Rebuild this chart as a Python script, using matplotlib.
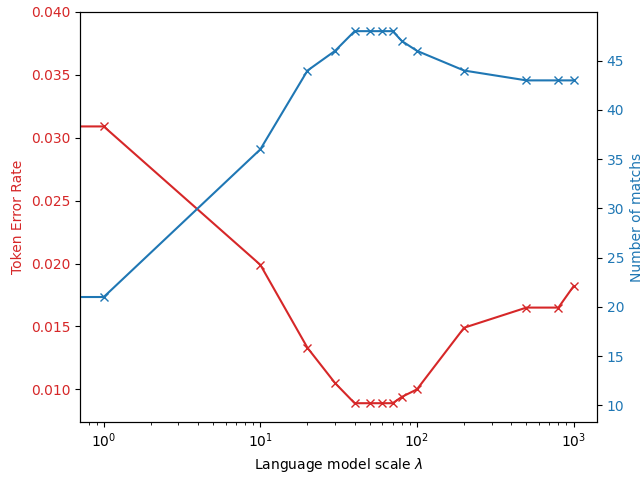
import numpy as np
import matplotlib
matplotlib.use("Agg")
import matplotlib.pyplot as plt

lam = [0, 1, 10, 20, 30, 40, 50, 60, 70, 80, 100, 200, 500, 800, 1000]
ter = [0.0309, 0.0309, 0.0199, 0.0133, 0.0105, 0.0089, 0.0089, 0.0089, 0.0089,
       0.0094, 0.0100, 0.0149, 0.0165, 0.0165, 0.0182]
matches = [21, 21, 36, 44, 46, 48, 48, 48, 48, 47, 46, 44, 43, 43, 43]

fig, ax1 = plt.subplots(figsize=(6.42, 4.78), dpi=100)

ax1.plot(lam, ter, color="tab:red", marker="x")
ax1.set_xscale("log")
ax1.set_xlabel(r"Language model scale $\lambda$")
ax1.set_ylabel("Token Error Rate", color="tab:red")
ax1.tick_params(axis="y", labelcolor="tab:red")
ax1.set_ylim(0.0074, 0.040)

ax2 = ax1.twinx()
ax2.plot(lam, matches, color="tab:blue", marker="x")
ax2.set_ylabel("Number of matchs", color="tab:blue")
ax2.tick_params(axis="y", labelcolor="tab:blue")
ax2.set_ylim(8.3, 49.95)

fig.subplots_adjust(left=0.125, right=0.93, top=0.975, bottom=0.117)
plt.savefig("out.png")
